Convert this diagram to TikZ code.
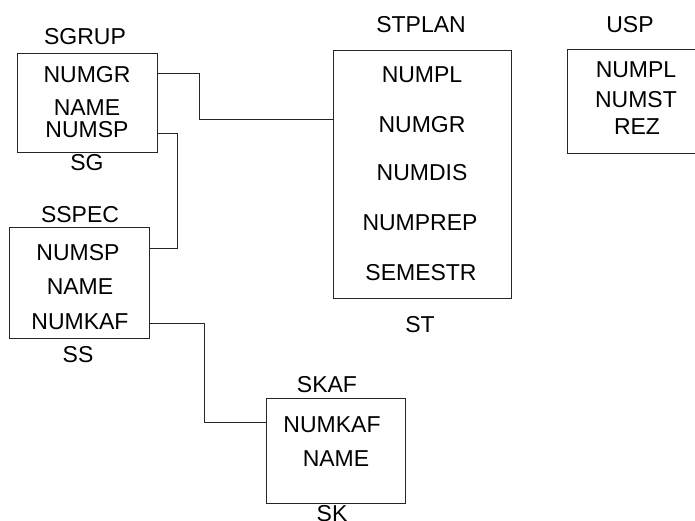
\documentclass[tikz,border=0pt]{standalone}
\usepackage{fontspec}
\setmainfont{Liberation Sans}
\begin{document}
\begin{tikzpicture}[x=1pt,y=-1pt,
  every node/.style={font=\fontsize{23}{27}\selectfont, inner sep=0pt},
  tbl/.style={draw=black!85, line width=1pt, anchor=north west, inner sep=0pt},
  link/.style={draw=black!85, line width=1pt}]
\useasboundingbox (0,0) rectangle (695,520);

% table frames
\path (17,53)  node[tbl, minimum width=140pt, minimum height=99pt]  (sg) {};
\path (9,227)  node[tbl, minimum width=140pt, minimum height=111pt] (ss) {};
\path (266,398) node[tbl, minimum width=139pt, minimum height=105pt] (sk) {};
\path (333,50) node[tbl, minimum width=178pt, minimum height=248pt] (st) {};
\path (567,49) node[tbl, minimum width=132pt, minimum height=104pt] (usp) {};

% SGRUP
\node (sgT) at (85,37) {SGRUP};
\node (sg1) at (87,75) {NUMGR};
\node (sg2) at (87,108) {NAME};
\node (sg3) at (87,130) {NUMSP};
\node (sgA) at (87,163) {SG};

% SSPEC
\node (ssT) at (80,215) {SSPEC};
\node (ss1) at (78,253) {NUMSP};
\node (ss2) at (80,287) {NAME};
\node (ss3) at (80,322) {NUMKAF};
\node (ssA) at (78,355) {SS};

% SKAF
\node (skT) at (327,385) {SKAF};
\node (sk1) at (332,425) {NUMKAF};
\node (sk2) at (336,459) {NAME};
\node (skA) at (332,514) {SK};

% STPLAN
\node (stT) at (421,25) {STPLAN};
\node (st1) at (422,75) {NUMPL};
\node (st2) at (422,125) {NUMGR};
\node (st3) at (422,173) {NUMDIS};
\node (st4) at (420,223) {NUMPREP};
\node (st5) at (421,273) {SEMESTR};
\node (stA) at (420,325) {ST};

% USP
\node (uspT) at (630,25) {USP};
\node (usp1) at (636,70) {NUMPL};
\node (usp2) at (636,100) {NUMST};
\node (usp3) at (637,127) {REZ};

% links between tables
\coordinate (j1) at (199,119);
\draw[link] (sg.east |- 0,73) -| (j1) -- (st.west |- j1);
\coordinate (j2) at (177,133);
\draw[link] (sg.east |- j2) -- (j2) |- (ss.east |- 0,248);
\coordinate (j3) at (204,323);
\draw[link] (ss.east |- j3) -- (j3) |- (sk.west |- 0,422);
\end{tikzpicture}
\end{document}
